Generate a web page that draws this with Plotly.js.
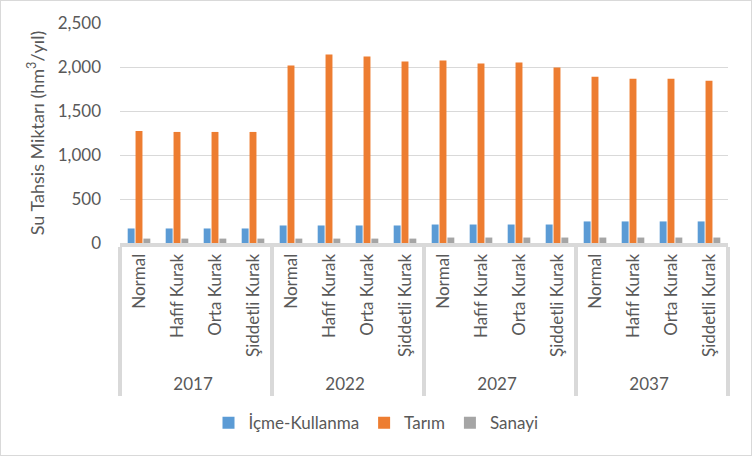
<!DOCTYPE html>
<html>
<head>
<meta charset="utf-8">
<script src="https://cdn.plot.ly/plotly-3.0.1.min.js"></script>
<style>
html,body{margin:0;padding:0;background:#fff;}
#chart{width:750px;height:454px;border:1px solid #d9d9d9;}
</style>
</head>
<body>
<div id="chart"></div>
<script>
const years = ['2017', '2022', '2027', '2037'];
const scenarios = ['Normal', 'Hafif Kurak', 'Orta Kurak', 'Şiddetli Kurak'];
const seriesNames = ['İçme-Kullanma', 'Tarım', 'Sanayi'];
const icmeKullanma = [165, 165, 165, 165, 199, 199, 199, 199, 210, 210, 210, 210, 245, 245, 245, 245];
const tarim = [1273, 1262, 1262, 1262, 2016, 2142, 2119, 2062, 2073, 2039, 2050, 1993, 1890, 1867, 1867, 1845];
const sanayi = [50, 50, 50, 50, 50, 50, 50, 50, 62, 62, 62, 62, 62, 62, 62, 62];
const colors = ['#5B9BD5', '#ED7D31', '#A5A5A5'];

const outer = [], inner = [];
years.forEach(y => scenarios.forEach(s => { outer.push(y); inner.push(s); }));

const data = [icmeKullanma, tarim, sanayi].map((vals, i) => ({
  type: 'bar',
  name: seriesNames[i],
  x: [outer, inner],
  y: vals,
  marker: {color: colors[i]},
  hoverinfo: 'none'
}));

const font = 'Lato, "Open Sans", sans-serif';
const layout = {
  width: 750, height: 454,
  margin: {l: 119, r: 23, t: 22, b: 212},
  paper_bgcolor: '#fff', plot_bgcolor: '#fff',
  barmode: 'group', bargap: 0.38, bargroupgap: 0.12,
  showlegend: true,
  legend: {orientation: 'h', xref: 'container', x: 0.5, xanchor: 'center', yref: 'container', y: 0.07, yanchor: 'middle',
           font: {family: font, size: 17, color: '#595959'}, traceorder: 'normal'},
  xaxis: {
    type: 'multicategory',
    tickangle: -90,
    tickfont: {family: font, size: 17, color: '#595959'},
    showline: true, linecolor: '#d9d9d9', linewidth: 4,
    showdividers: true, dividercolor: '#d9d9d9', dividerwidth: 4,
    ticks: '', showgrid: false
  },
  yaxis: {
    range: [0, 2500], dtick: 500, tickformat: ',d',
    tickfont: {family: font, size: 17, color: '#595959'},
    showgrid: true, gridcolor: '#d9d9d9', gridwidth: 1,
    zeroline: false, showline: false, ticks: '', ticklabelstandoff: 18,
    title: {text: 'Su Tahsis Miktarı (hm<sup>3</sup>/yıl)', font: {family: font, size: 18, color: '#595959'}, standoff: 8}
  }
};
Plotly.newPlot('chart', data, layout, {displayModeBar: false, staticPlot: true});
</script>
</body>
</html>
